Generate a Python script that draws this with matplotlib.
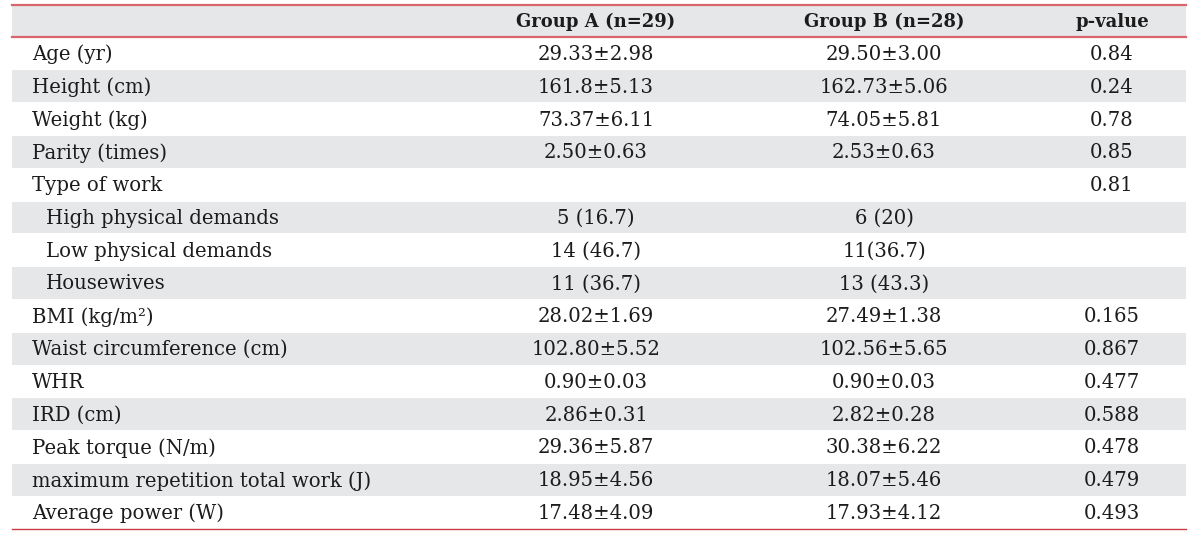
#!/usr/bin/env python3
"""Baseline characteristics table, drawn with matplotlib."""

import matplotlib.pyplot as plt
from matplotlib.patches import Rectangle

OUT = "out.png"

HEADERS = ["", "Group A (n=29)", "Group B (n=28)", "p-value"]

ROW_LABELS = [
    "Age (yr)", "Height (cm)", "Weight (kg)", "Parity (times)", "Type of work",
    "High physical demands", "Low physical demands", "Housewives",
    "BMI (kg/m\u00b2)", "Waist circumference (cm)", "WHR", "IRD (cm)",
    "Peak torque (N/m)", "maximum repetition total work (J)", "Average power (W)",
]
SUB_ROWS = {"High physical demands", "Low physical demands", "Housewives"}

GROUP_A = [
    "29.33\u00b12.98", "161.8\u00b15.13", "73.37\u00b16.11", "2.50\u00b10.63", "",
    "5 (16.7)", "14 (46.7)", "11 (36.7)",
    "28.02\u00b11.69", "102.80\u00b15.52", "0.90\u00b10.03", "2.86\u00b10.31",
    "29.36\u00b15.87", "18.95\u00b14.56", "17.48\u00b14.09",
]
GROUP_B = [
    "29.50\u00b13.00", "162.73\u00b15.06", "74.05\u00b15.81", "2.53\u00b10.63", "",
    "6 (20)", "11(36.7)", "13 (43.3)",
    "27.49\u00b11.38", "102.56\u00b15.65", "0.90\u00b10.03", "2.82\u00b10.28",
    "30.38\u00b16.22", "18.07\u00b15.46", "17.93\u00b14.12",
]
P_VALUES = [
    "0.84", "0.24", "0.78", "0.85", "0.81",
    "", "", "",
    "0.165", "0.867", "0.477", "0.588",
    "0.478", "0.479", "0.493",
]

GRAY = "#e6e7e9"
RED_TOP = "#d9646d"
RED_BOTTOM = "#c93a45"
TEXT = "#1c1c1c"
FONT = ["DejaVu Serif"]


def main() -> None:
    W, H = 1200, 534
    fig = plt.figure(figsize=(W / 100, H / 100), dpi=100)
    ax = fig.add_axes([0, 0, 1, 1])
    ax.set_xlim(0, W)
    ax.set_ylim(H, 0)
    ax.axis("off")

    left, right = 12, 1186
    top, head_bottom, bottom = 5, 37, 529
    row_h = (bottom - head_bottom) / len(ROW_LABELS)
    col_x = [32, 596, 884, 1112]
    fs = 14.1
    fs_head = 13.0

    # header band
    ax.add_patch(Rectangle((left, top), right - left, head_bottom - top,
                           facecolor=GRAY, edgecolor="none"))
    for label, x in zip(HEADERS, col_x):
        if label:
            ax.text(x, (top + head_bottom) / 2 + 1, label, ha="center", va="center",
                    fontsize=fs_head, weight="bold", color=TEXT, family=FONT)

    for i, label in enumerate(ROW_LABELS):
        y0 = head_bottom + i * row_h
        yc = y0 + row_h / 2 + 1
        if i % 2 == 1:
            ax.add_patch(Rectangle((left, y0 + 0.5), right - left, row_h - 1,
                                   facecolor=GRAY, edgecolor="none"))
        lx = col_x[0] + (14 if label in SUB_ROWS else 0)
        ax.text(lx, yc, label, ha="left", va="center", fontsize=fs,
                color=TEXT, family=FONT)
        for x, val in zip(col_x[1:], (GROUP_A[i], GROUP_B[i], P_VALUES[i])):
            if val:
                ax.text(x, yc, val, ha="center", va="center", fontsize=fs,
                        color=TEXT, family=FONT)

    ax.plot([left, right], [top, top], color=RED_TOP, linewidth=1.6)
    ax.plot([left, right], [head_bottom, head_bottom], color=RED_TOP, linewidth=1.6)
    ax.plot([left, right], [bottom, bottom], color=RED_BOTTOM, linewidth=1.0)

    fig.savefig(OUT, dpi=100)
    plt.close(fig)


if __name__ == "__main__":
    main()
